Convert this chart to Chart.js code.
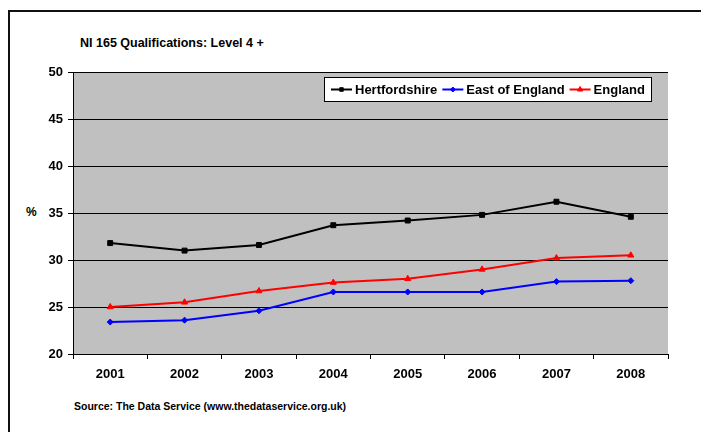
<!DOCTYPE html>
<html><head><meta charset="utf-8">
<script src="https://cdn.jsdelivr.net/npm/chart.js@4.4.1/dist/chart.umd.min.js"></script>
<style>
html,body{margin:0;padding:0;background:#fff;}
#wrap{position:relative;width:701px;height:432px;overflow:hidden;font-family:"Liberation Sans",Arial,sans-serif;font-weight:bold;color:#000;}
#frame{position:absolute;left:8px;top:10px;width:800px;height:600px;border:2px solid #111;box-sizing:border-box;}
#title{position:absolute;left:80px;top:36px;font-size:12.5px;line-height:14px;white-space:nowrap;}
#ylab{position:absolute;left:26px;top:205px;font-size:12px;line-height:15px;}
#source{position:absolute;left:74px;top:400px;font-size:10.5px;line-height:12px;white-space:nowrap;}
canvas{position:absolute;left:0;top:0;}
</style>
</head><body>
<div id="wrap">
<div id="frame"></div>
<div id="title">NI 165 Qualifications: Level 4 +</div>
<div id="ylab">%</div>
<div id="source">Source: The Data Service (www.thedataservice.org.uk)</div>
<canvas id="c" width="701" height="432"></canvas>
</div>
<script>
const categories = ['2001','2002','2003','2004','2005','2006','2007','2008'];
const hertfordshire = [31.8, 31.0, 31.6, 33.7, 34.2, 34.8, 36.2, 34.6];
const eastOfEngland = [23.4, 23.6, 24.6, 26.6, 26.6, 26.6, 27.7, 27.8];
const england = [25.0, 25.5, 26.7, 27.6, 28.0, 29.0, 30.2, 30.5];
const seriesNames = ['Hertfordshire', 'East of England', 'England'];
const yMin = 20, yMax = 50, yStep = 5;

const FONT = '"Liberation Sans", Arial, sans-serif';

const plotBg = {
  id: 'plotBg',
  beforeDraw(chart) {
    const {ctx, chartArea: a} = chart;
    ctx.save();
    ctx.fillStyle = '#C0C0C0';
    ctx.fillRect(a.left, a.top, a.right - a.left, a.bottom - a.top);
    ctx.restore();
  }
};

const legendMarkerRadius = [2.5, 2.5, 3];

const boxLegend = {
  id: 'boxLegend',
  afterDatasetsDraw(chart) {
    const ctx = chart.ctx;
    ctx.save();
    ctx.font = 'bold 13px ' + FONT;
    const lineLen = 21, gap1 = 3, gap2 = 5, padL = 7, padR = 7;
    const dss = chart.data.datasets;
    let total = padL;
    dss.forEach((ds, i) => {
      total += lineLen + gap1 + ctx.measureText(ds.label).width + (i < dss.length - 1 ? gap2 : 0);
    });
    total += padR;
    const right = 652, top = 77, h = 25;
    const left = Math.round(right - total);
    const w = right - left;
    ctx.fillStyle = '#fff';
    ctx.fillRect(left, top, w, h);
    ctx.strokeStyle = '#000';
    ctx.lineWidth = 1;
    ctx.strokeRect(left + 0.5, top + 0.5, w - 1, h - 1);
    let x = left + padL;
    const cy = top + h / 2;
    dss.forEach((ds, i) => {
      ctx.strokeStyle = ds.borderColor;
      ctx.lineWidth = 2;
      ctx.beginPath();
      ctx.moveTo(x, cy); ctx.lineTo(x + lineLen, cy);
      ctx.stroke();
      ctx.fillStyle = ds.pointBackgroundColor;
      ctx.strokeStyle = ds.pointBorderColor;
      ctx.lineWidth = 1;
      Chart.helpers.drawPoint(ctx, {pointStyle: ds.pointStyle, radius: legendMarkerRadius[i], borderWidth: 1, rotation: 0}, x + lineLen / 2, cy);
      x += lineLen + gap1;
      ctx.fillStyle = '#000';
      ctx.textBaseline = 'middle';
      ctx.textAlign = 'left';
      ctx.fillText(ds.label, x, cy + 1);
      x += ctx.measureText(ds.label).width + gap2;
    });
    ctx.restore();
  }
};

function mk(label, data, color, style, r) {
  return {
    label, data,
    borderColor: color, backgroundColor: color,
    pointBackgroundColor: color, pointBorderColor: color,
    pointStyle: style, pointRadius: r, pointHoverRadius: r,
    borderWidth: 2, pointBorderWidth: 1, tension: 0
  };
}

new Chart(document.getElementById('c'), {
  type: 'line',
  data: {
    labels: categories,
    datasets: [
      mk(seriesNames[0], hertfordshire, '#000000', 'rect', 3.5),
      mk(seriesNames[1], eastOfEngland, '#0000FF', 'rectRot', 3),
      mk(seriesNames[2], england, '#FF0000', 'triangle', 3.5)
    ]
  },
  plugins: [plotBg, boxLegend],
  options: {
    responsive: false,
    animation: false,
    devicePixelRatio: 1,
    layout: {padding: {left: 0, right: 33, top: 72, bottom: 0}},
    plugins: {legend: {display: false}, tooltip: {enabled: false}, title: {display: false}},
    scales: {
      x: {
        offset: true,
        grid: {offset: true, drawOnChartArea: false, drawTicks: true, tickLength: 5, color: '#000', lineWidth: 1},
        border: {display: true, color: '#000', width: 1},
        ticks: {color: '#000', font: {family: FONT, size: 13, weight: 'bold'}, padding: 8, maxRotation: 0},
        afterFit(scale) { scale.height = 78; }
      },
      y: {
        min: yMin, max: yMax,
        ticks: {stepSize: yStep, color: '#000', font: {family: FONT, size: 13, weight: 'bold'}, padding: 5},
        grid: {color: '#000', lineWidth: 1, tickLength: 5, drawTicks: true},
        border: {display: true, color: '#000', width: 1},
        afterFit(scale) { scale.width = 73; }
      }
    }
  }
});
</script>
</body></html>
